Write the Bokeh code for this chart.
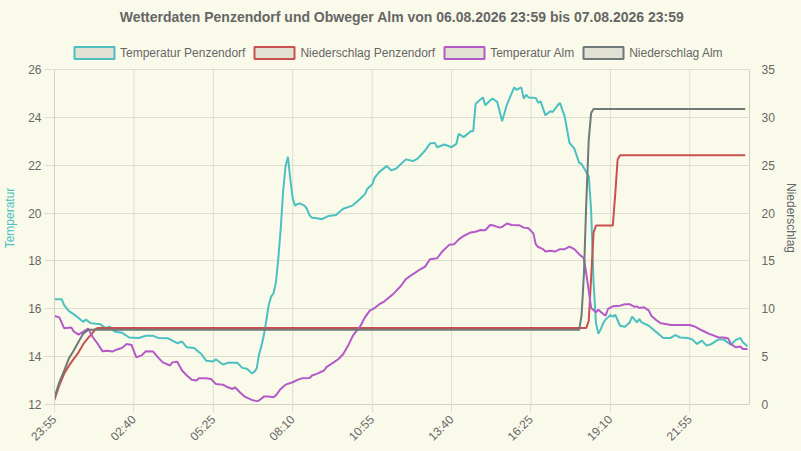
from bokeh.plotting import figure
from bokeh.models import (Range1d, LinearAxis, FixedTicker, Legend, LegendItem, GlobalInlineStyleSheet)
from bokeh.embed import file_html
from bokeh.resources import INLINE
import math

# ---------------- data ----------------
title_text = "Wetterdaten Penzendorf und Obweger Alm von 06.08.2026 23:59 bis 07.08.2026 23:59"
series_names = ["Temperatur Penzendorf", "Niederschlag Penzendorf", "Temperatur Alm", "Niederschlag Alm"]
x_tick_labels = ["23:55", "02:40", "05:25", "08:10", "10:55", "13:40", "16:25", "19:10", "21:55"]
temp_ticks = [12, 14, 16, 18, 20, 22, 24, 26]
rain_ticks = [0, 5, 10, 15, 20, 25, 30, 35]

temp_penz_times = ["23:55", "00:10", "00:15", "00:25", "00:40", "00:55", "01:00", "01:10", "01:30", "01:40",
                   "01:50", "02:00", "02:15", "02:30", "02:50", "03:05", "03:20", "03:30", "03:50", "04:10",
                   "04:20", "04:30", "04:45", "05:00", "05:10", "05:25", "05:30", "05:45", "05:55", "06:15",
                   "06:25", "06:35", "06:45", "06:50", "06:55", "07:00", "07:05", "07:10", "07:15", "07:20",
                   "07:25", "07:30", "07:35", "07:40", "07:45", "07:50", "07:55", "08:00", "08:05", "08:10",
                   "08:15", "08:20", "08:25", "08:30", "08:35", "08:40", "08:45", "08:50", "09:00", "09:10",
                   "09:25", "09:40", "09:45", "09:55", "10:15", "10:25", "10:40", "10:45", "10:55", "11:00",
                   "11:10", "11:25", "11:35", "11:45", "12:05", "12:20", "12:30", "12:45", "12:55", "13:05",
                   "13:10", "13:25", "13:40", "13:50", "13:55", "14:05", "14:20", "14:25", "14:30", "14:40",
                   "14:45", "14:50", "15:00", "15:05", "15:15", "15:25", "15:35", "15:50", "15:55", "16:05",
                   "16:10", "16:15", "16:20", "16:35", "16:40", "16:45", "16:55", "17:05", "17:10", "17:20",
                   "17:25", "17:35", "17:45", "17:55", "18:05", "18:10", "18:25", "18:30", "18:35", "18:40",
                   "18:45", "18:50", "18:55", "19:00", "19:05", "19:10", "19:15", "19:20", "19:30", "19:40",
                   "19:50", "19:55", "20:05", "20:10", "20:15", "20:30", "20:40", "20:50", "21:00", "21:15",
                   "21:25", "21:35", "21:50", "22:00", "22:10", "22:20", "22:30", "22:40", "22:55", "23:05",
                   "23:20", "23:30", "23:40", "23:45", "23:55"]
temp_penz_values = [16.4, 16.4, 16.15, 15.9, 15.7, 15.45, 15.55, 15.4, 15.35, 15.2,
                    15.25, 15.05, 15.0, 14.8, 14.78, 14.87, 14.87, 14.78, 14.77, 14.56,
                    14.63, 14.39, 14.36, 14.11, 13.83, 13.8, 13.89, 13.67, 13.74, 13.74,
                    13.53, 13.49, 13.3, 13.36, 13.5, 14.1, 14.45, 14.9, 15.5, 16.15,
                    16.5, 16.65, 17.1, 18.1, 19.35, 20.9, 21.95, 22.35, 21.4, 20.6,
                    20.3, 20.38, 20.4, 20.35, 20.3, 20.15, 19.9, 19.8, 19.78, 19.74,
                    19.88, 19.92, 20.01, 20.18, 20.32, 20.5, 20.78, 21.01, 21.19, 21.47,
                    21.72, 21.96, 21.78, 21.86, 22.24, 22.17, 22.28, 22.61, 22.9, 22.93,
                    22.75, 22.86, 22.75, 22.89, 23.31, 23.17, 23.42, 23.42, 24.56, 24.74,
                    24.83, 24.5, 24.7, 24.78, 24.64, 23.83, 24.53, 25.25, 25.15, 25.25,
                    24.78, 24.94, 24.83, 24.81, 24.6, 24.67, 24.08, 24.25, 24.22, 24.49,
                    24.6, 24.04, 22.93, 22.69, 22.1, 22.05, 21.54, 20.1, 17.1, 15.4,
                    14.95, 15.15, 15.4, 15.55, 15.64, 15.74, 15.67, 15.75, 15.29, 15.25,
                    15.43, 15.67, 15.43, 15.57, 15.43, 15.29, 15.11, 14.95, 14.78, 14.78,
                    14.9, 14.8, 14.78, 14.72, 14.53, 14.67, 14.46, 14.53, 14.72, 14.72,
                    14.5, 14.69, 14.78, 14.6, 14.43]

temp_alm_times = ["23:55", "00:05", "00:15", "00:30", "00:35", "00:45", "00:55", "01:05", "01:15", "01:25",
                  "01:35", "01:45", "01:55", "02:05", "02:15", "02:25", "02:35", "02:45", "02:55", "03:05",
                  "03:20", "03:30", "03:40", "03:55", "04:00", "04:10", "04:20", "04:30", "04:40", "04:50",
                  "04:55", "05:10", "05:20", "05:30", "05:45", "05:55", "06:05", "06:10", "06:20", "06:30",
                  "06:45", "06:55", "07:00", "07:10", "07:20", "07:30", "07:35", "07:45", "07:55", "08:10",
                  "08:20", "08:30", "08:45", "08:50", "09:00", "09:15", "09:20", "09:35", "09:45", "09:55",
                  "10:05", "10:15", "10:30", "10:40", "10:50", "11:00", "11:10", "11:20", "11:30", "11:40",
                  "11:55", "12:05", "12:20", "12:35", "12:45", "12:55", "13:10", "13:20", "13:35", "13:45",
                  "13:55", "14:05", "14:20", "14:30", "14:40", "14:50", "15:00", "15:05", "15:20", "15:25",
                  "15:35", "15:45", "16:00", "16:10", "16:20", "16:30", "16:35", "16:40", "16:50", "16:55",
                  "17:05", "17:15", "17:25", "17:35", "17:45", "17:55", "18:05", "18:15", "18:20", "18:25",
                  "18:30", "18:40", "18:45", "18:55", "19:00", "19:05", "19:15", "19:30", "19:40", "19:50",
                  "20:00", "20:05", "20:10", "20:20", "20:30", "20:35", "20:45", "20:55", "21:05", "21:15",
                  "21:45", "21:55", "22:05", "22:15", "22:25", "22:35", "22:45", "22:55", "23:05", "23:15",
                  "23:20", "23:30", "23:40", "23:45", "23:55"]
temp_alm_values = [15.7, 15.64, 15.19, 15.22, 15.05, 14.92, 15.05, 15.17, 14.8, 14.53,
                   14.22, 14.25, 14.21, 14.3, 14.36, 14.53, 14.49, 13.97, 14.04, 14.22,
                   14.21, 13.97, 13.76, 13.63, 13.76, 13.79, 13.42, 13.21, 13.03, 13.0,
                   13.1, 13.1, 13.07, 12.86, 12.83, 12.72, 12.65, 12.72, 12.51, 12.33,
                   12.19, 12.14, 12.17, 12.33, 12.33, 12.3, 12.38, 12.65, 12.83, 12.93,
                   13.03, 13.1, 13.11, 13.21, 13.28, 13.42, 13.56, 13.76, 13.9, 14.11,
                   14.46, 14.88, 15.26, 15.64, 15.92, 16.03, 16.19, 16.3, 16.47, 16.64,
                   16.96, 17.24, 17.45, 17.65, 17.76, 18.07, 18.11, 18.38, 18.67, 18.69,
                   18.9, 19.04, 19.19, 19.22, 19.29, 19.28, 19.5, 19.49, 19.39, 19.42,
                   19.56, 19.5, 19.49, 19.39, 19.36, 19.15, 18.69, 18.58, 18.49, 18.39,
                   18.42, 18.39, 18.49, 18.49, 18.6, 18.49, 18.28, 18.11, 17.45, 16.75,
                   16.03, 15.85, 15.96, 15.78, 15.71, 15.99, 16.1, 16.13, 16.19, 16.19,
                   16.08, 16.1, 16.03, 16.06, 15.92, 15.71, 15.53, 15.39, 15.36, 15.32,
                   15.32, 15.32, 15.26, 15.15, 15.05, 14.95, 14.88, 14.8, 14.8, 14.76,
                   14.53, 14.39, 14.42, 14.32, 14.32]

rain_penz_times = ["23:55", "00:05", "00:15", "00:25", "00:35", "00:45", "00:55", "01:05", "01:15", "01:20",
                   "01:25", "18:20", "18:25", "18:30", "18:35", "18:40", "19:15", "19:20", "19:25", "19:30",
                   "23:50"]
rain_penz_values = [0.5, 2.0, 3.2, 4.06, 4.76, 5.45, 6.32, 6.95, 7.53, 7.88,
                    8.0, 8.0, 8.75, 13.26, 17.95, 18.7, 18.7, 21.95, 25.6, 26.04,
                    26.04]

rain_alm_times = ["23:55", "00:05", "00:15", "00:25", "00:35", "00:45", "00:55", "01:05", "18:05", "18:10",
                  "18:15", "18:20", "18:25", "18:30", "18:35", "23:50"]
rain_alm_values = [0.76, 2.32, 3.54, 4.82, 5.63, 6.56, 7.43, 7.8, 7.8, 9.27,
                   13.61, 21.25, 27.67, 30.45, 30.87, 30.87]

colors = ["#4bc0c0", "#c9504f", "#b45ac8", "#6e7a77"]
legend_fill = "#e1e1d4"
bg = "#fafaeb"
grid_col = "#dedecf"
axis_col = "#d2d2c4"
text_col = "#666666"
font = "Liberation Sans"

# layout (pixels): the frame also holds a band above the data area for the legend
fig_w, fig_h = 800, 451
border_left, border_right, border_top, border_bottom = 50, 50, 30, 47
band_px = 38                                                   # legend band above the data area
data_px = fig_h - border_top - border_bottom - band_px         # height of the data area (336 px)


def to_minutes(times):
    """Minutes elapsed since the first time stamp (06.08. 23:55), rolling over midnight."""
    out = []
    day = 0
    prev = None
    base = None
    for t in times:
        h, m = map(int, t.split(":"))
        mins = h * 60 + m
        if prev is not None and mins < prev:
            day += 1
        prev = mins
        total = day * 1440 + mins
        if base is None:
            base = total
        out.append(total - base)
    return out


x_ticks = to_minutes(x_tick_labels)
t_lo, t_hi = temp_ticks[0], temp_ticks[-1]
r_lo, r_hi = rain_ticks[0], rain_ticks[-1]
t_end = t_hi + (t_hi - t_lo) * band_px / data_px
r_end = r_hi + (r_hi - r_lo) * band_px / data_px

p = figure(width=fig_w, height=fig_h,
           x_range=Range1d(0, 1444), y_range=Range1d(t_lo, t_end),
           output_backend="svg", toolbar_location=None,
           min_border_left=border_left, min_border_right=border_right,
           min_border_top=border_top, min_border_bottom=border_bottom)
p.extra_y_ranges = {"rain": Range1d(r_lo, r_end)}

p.background_fill_color = bg
p.border_fill_color = bg
p.outline_line_color = None
p.stylesheets = [GlobalInlineStyleSheet(css="html, body { background: %s; }" % bg)]

# title
p.title.text = title_text
p.title.align = "center"
p.title.text_font = font
p.title.text_font_size = "14px"
p.title.text_font_style = "bold"
p.title.text_color = text_col
p.title.standoff = 13

# x axis
xt = FixedTicker(ticks=x_ticks)
xa = p.xaxis[0]
xa.ticker = xt
xa.major_label_overrides = {m: lab for m, lab in zip(x_ticks, x_tick_labels)}
xa.major_label_orientation = math.pi / 4
xa.major_tick_out = 8
xa.major_tick_in = 0
xa.minor_tick_line_color = None
xa.major_tick_line_color = grid_col
xa.axis_line_color = axis_col
xa.major_label_text_font = font
xa.major_label_text_font_size = "12px"
xa.major_label_text_color = text_col
xa.major_label_standoff = 5
p.xgrid[0].visible = False

# vertical grid lines limited to the data area
p.segment(x0=x_ticks, y0=[t_lo] * len(x_ticks), x1=x_ticks, y1=[t_hi] * len(x_ticks),
          line_color=grid_col, line_width=1, level="underlay")

# left axis
ya = p.yaxis[0]
yt = FixedTicker(ticks=temp_ticks)
ya.ticker = yt
ya.bounds = (t_lo, t_hi)
p.ygrid[0].ticker = yt
p.ygrid[0].grid_line_color = grid_col
ya.axis_label = "Temperatur"
ya.axis_label_text_color = colors[0]
ya.axis_label_text_font = font
ya.axis_label_text_font_size = "12px"
ya.axis_label_text_font_style = "normal"
ya.axis_label_standoff = 8
ya.major_tick_out = 10
ya.major_tick_in = 0
ya.minor_tick_line_color = None
ya.major_tick_line_color = grid_col
ya.axis_line_color = axis_col
ya.major_label_text_font = font
ya.major_label_text_font_size = "12px"
ya.major_label_text_color = text_col
ya.major_label_standoff = 3

# right axis
ra = LinearAxis(y_range_name="rain", ticker=FixedTicker(ticks=rain_ticks), axis_label="Niederschlag",
                bounds=(r_lo, r_hi))
ra.axis_label_text_color = text_col
ra.axis_label_text_font = font
ra.axis_label_text_font_size = "12px"
ra.axis_label_text_font_style = "normal"
ra.axis_label_standoff = 6
ra.major_tick_out = 0
ra.major_tick_in = 0
ra.minor_tick_line_color = None
ra.major_tick_line_color = None
ra.axis_line_color = axis_col
ra.major_label_text_font = font
ra.major_label_text_font_size = "12px"
ra.major_label_text_color = text_col
ra.major_label_standoff = 12
p.add_layout(ra, "right")

# lines
p.line(to_minutes(temp_penz_times), temp_penz_values, line_color=colors[0], line_width=2)
p.line(to_minutes(rain_penz_times), rain_penz_values, line_color=colors[1], line_width=2, y_range_name="rain")
p.line(to_minutes(temp_alm_times), temp_alm_values, line_color=colors[2], line_width=2)
p.line(to_minutes(rain_alm_times), rain_alm_values, line_color=colors[3], line_width=2, y_range_name="rain")

# legend boxes (renderers with an undrawable NaN row, only used for the legend glyphs)
nan = float("nan")
items = []
for name, c in zip(series_names, colors):
    r = p.quad(left=[nan], right=[nan], top=[nan], bottom=[nan],
               fill_color=legend_fill, line_color=c, line_width=2)
    items.append(LegendItem(label=name, renderers=[r]))

legend = Legend(items=items, orientation="horizontal", location=(15, data_px + band_px - 30))
legend.glyph_width = 50
legend.glyph_height = 15
legend.label_standoff = 1
legend.spacing = 4
legend.padding = 0
legend.margin = 0
legend.label_height = 15
legend.label_text_font = font
legend.label_text_font_size = "12px"
legend.label_text_color = text_col
legend.border_line_color = None
legend.background_fill_alpha = 0
p.add_layout(legend)

open("out.html", "w").write(file_html(p, INLINE))
